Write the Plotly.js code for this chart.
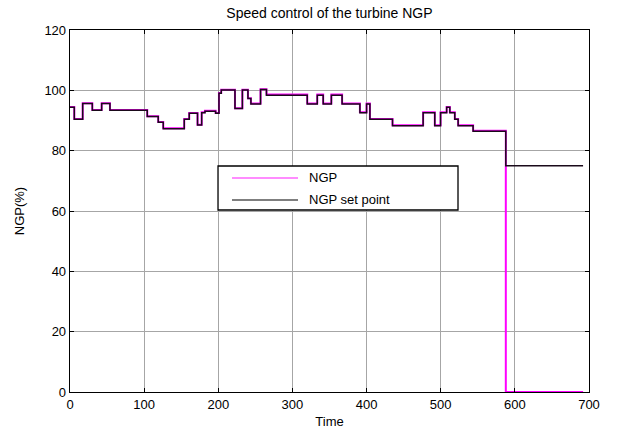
<!DOCTYPE html>
<html>
<head>
<meta charset="utf-8">
<script src="https://cdn.plot.ly/plotly-3.0.1.min.js"></script>
<style>html,body{margin:0;padding:0;background:#fff;}#chart{width:617px;height:429px;}</style>
</head>
<body>
<div id="chart"></div>
<script>
// Set point: change times and levels (step function)
var setTime  = [0, 5.8, 17.1, 30.1, 42.7, 53.9, 104.2, 119, 125.8, 154.1, 160.8, 172, 177.6, 182, 196.4, 200.9, 204, 222.5, 232.5, 240, 244, 257, 265, 320, 333.5, 341.5, 352.5, 367, 391, 400, 404.5, 435, 476.3, 492, 499.8, 508, 512.3, 519, 523.5, 543.7, 587.8, 692];
var setValue = [94.4, 90.4, 95.6, 93.4, 95.6, 93.4, 91.3, 89.4, 87.3, 90.4, 92.4, 88.5, 92.6, 93.1, 92.4, 99.0, 100.1, 94.0, 100.1, 97.3, 95.5, 100.3, 98.4, 95.5, 98.4, 95.5, 98.4, 95.5, 92.6, 95.5, 90.4, 88.3, 92.6, 88.3, 92.6, 94.4, 92.6, 90.4, 88.3, 86.4, 75, 75];
// Measured NGP: tracks the set point, then falls to 0
var ngpTime  = [0, 5.8, 17.1, 30.1, 42.7, 53.9, 104.2, 119, 125.8, 154.1, 160.8, 172, 177.6, 182, 196.4, 200.9, 204, 222.5, 232.5, 240, 244, 257, 265, 320, 333.5, 341.5, 352.5, 367, 391, 400, 404.5, 435, 476.3, 492, 499.8, 508, 512.3, 519, 523.5, 543.7, 587.8, 692];
var ngpValue = [94.5, 90.5, 95.7, 93.5, 95.7, 93.5, 91.4, 89.5, 87.4, 90.5, 92.5, 88.6, 92.7, 93.2, 92.5, 99.1, 100.2, 94.1, 100.2, 97.4, 95.6, 100.4, 98.6, 95.6, 98.6, 95.6, 98.6, 95.6, 92.7, 95.6, 90.5, 88.4, 92.7, 88.4, 92.7, 94.5, 92.7, 90.5, 88.4, 86.6, 0, 0];

var xTicks = [0, 100, 200, 300, 400, 500, 600, 700];
var yTicks = [0, 20, 40, 60, 80, 100, 120];
var legendNames = ['NGP', 'NGP set point'];
var legendColors = ['#ff66ff', '#555555'];

var font = 'Liberation Sans, Arial, sans-serif';

var traces = [
  {x: ngpTime, y: ngpValue, mode: 'lines', name: legendNames[0],
   line: {color: '#ff00ff', width: 2, shape: 'hv'}},
  {x: setTime, y: setValue, mode: 'lines', name: legendNames[1],
   line: {color: '#1a0a1a', width: 1.5, shape: 'hv'}}
];

var axisCommon = {
  showline: true, linecolor: '#000', linewidth: 1.3, mirror: 'ticks',
  ticks: 'inside', ticklen: 4, tickcolor: '#000', tickwidth: 1,
  showgrid: true, gridcolor: '#a6a6a6', gridwidth: 1,
  zeroline: false, tickfont: {family: font, size: 13, color: '#000'}
};

// Hand-drawn legend box (paper coordinates)
var lg = {x0: 0.2852, x1: 0.7476, y0: 0.5028, y1: 0.6243, lx0: 0.3121, lx1: 0.4393, tx: 0.4566, rows: [0.5912, 0.5304]};
var shapes = [
  {type: 'rect', xref: 'paper', yref: 'paper', x0: lg.x0, x1: lg.x1, y0: lg.y0, y1: lg.y1,
   line: {color: '#000', width: 1.3}, fillcolor: '#fff', layer: 'above'}
];
var annotations = [];
legendNames.forEach(function (n, i) {
  shapes.push({type: 'line', xref: 'paper', yref: 'paper', x0: lg.lx0, x1: lg.lx1, y0: lg.rows[i], y1: lg.rows[i],
               line: {color: legendColors[i], width: 1.5}, layer: 'above'});
  annotations.push({xref: 'paper', yref: 'paper', x: lg.tx, y: lg.rows[i], xanchor: 'left', yanchor: 'middle',
                    text: n, showarrow: false, font: {family: font, size: 13, color: '#000'}});
});

var layout = {
  width: 617, height: 429,
  margin: {l: 70, r: 28, t: 30, b: 37},
  paper_bgcolor: '#fff', plot_bgcolor: '#fff',
  showlegend: false,
  title: {text: 'Speed control of the turbine NGP', x: 0.534, xanchor: 'center', y: 0.97, yanchor: 'middle',
          font: {family: font, size: 14, color: '#000'}},
  xaxis: Object.assign({}, axisCommon, {range: [0, 700], tickvals: xTicks, ticktext: xTicks.map(String),
          title: {text: 'Time', font: {family: font, size: 13, color: '#000'}, standoff: 6}}),
  yaxis: Object.assign({}, axisCommon, {range: [0, 120], tickvals: yTicks, ticktext: yTicks.map(String),
          title: {text: 'NGP(%)', font: {family: font, size: 13, color: '#000'}, standoff: 16}}),
  shapes: shapes,
  annotations: annotations
};

Plotly.newPlot('chart', traces, layout, {displayModeBar: false, staticPlot: true});
</script>
</body>
</html>
